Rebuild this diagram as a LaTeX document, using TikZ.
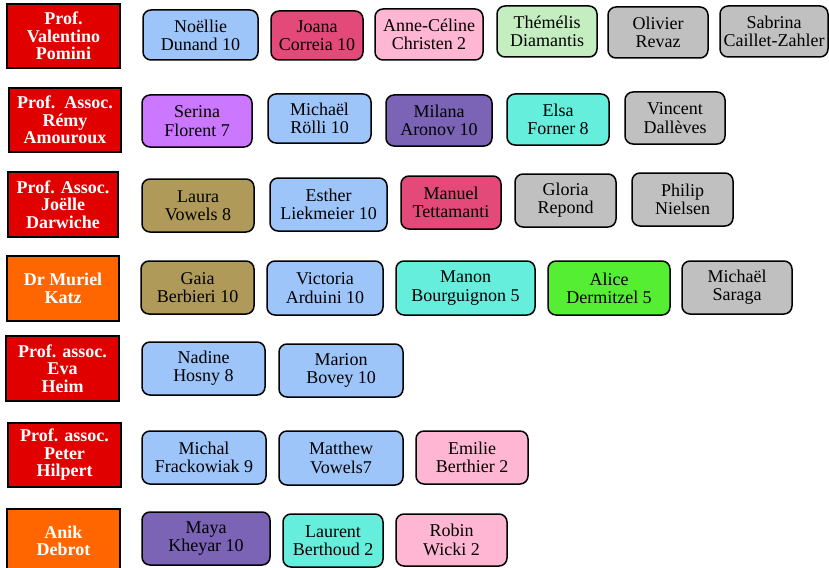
\documentclass[tikz,border=0pt]{standalone}
\usepackage{fontspec}
\setmainfont{Liberation Serif}
\definecolor{profred}{HTML}{E00000}
\definecolor{proforange}{HTML}{FF6600}
\definecolor{lblue}{HTML}{9EC5FA}
\definecolor{rosered}{HTML}{E34A7A}
\definecolor{lpink}{HTML}{FFB6D3}
\definecolor{lgreen}{HTML}{C4EEC0}
\definecolor{lgray}{HTML}{C0C0C0}
\definecolor{lpurple}{HTML}{CC77FF}
\definecolor{dpurple}{HTML}{7B63B5}
\definecolor{turq}{HTML}{66EEDD}
\definecolor{khaki}{HTML}{B09A5A}
\definecolor{brgreen}{HTML}{55EE33}
\tikzset{
  prof/.style={draw=black, line width=2pt, rectangle, inner sep=0pt, align=center,
    text=white, font=\fontsize{18}{17.5}\selectfont\bfseries},
  stud/.style={draw=black, line width=1.5pt, rectangle, rounded corners=8pt, inner sep=0pt,
    align=center, text=black, font=\fontsize{18}{18.3}\selectfont},
}
\newcommand\bx[7]{%
  \pgfmathsetmacro\cxx{(#3+#5)/2}\pgfmathsetmacro\cyy{(#4+#6)/2}%
  \pgfmathsetmacro\ww{#5-#3}\pgfmathsetmacro\hh{#6-#4}%
  \node[#1, minimum width=\ww pt, minimum height=\hh pt] (#2) at (\cxx,\cyy) {#7};}
\begin{document}
\begin{tikzpicture}[x=1pt,y=-1pt]
\useasboundingbox (0,0) rectangle (829,567);
% row 1
\bx{prof,fill=profred}{p1}{7}{4}{120}{68}{Prof.\\Valentino\\Pomini}
\bx{stud,fill=lblue}{s11}{143}{10}{258}{60}{Noëllie\\Dunand 10}
\bx{stud,fill=rosered}{s12}{271}{11}{363}{60}{Joana\\Correia 10}
\bx{stud,fill=lpink}{s13}{375}{9}{483}{60}{Anne-Céline\\Christen 2}
\bx{stud,fill=lgreen}{s14}{497}{6}{597}{57}{Thémélis\\Diamantis}
\bx{stud,fill=lgray}{s15}{608}{7}{708}{58}{Olivier\\Revaz}
\bx{stud,fill=lgray}{s16}{720}{6}{828}{57}{Sabrina\\Caillet-Zahler}
% row 2
\bx{prof,fill=profred}{p2}{9}{88}{121}{152}{Prof.~~Assoc.\\Rémy\\Amouroux}
\bx{stud,fill=lpurple}{s21}{142}{95}{252}{147}{Serina\\Florent 7}
\bx{stud,fill=lblue}{s22}{268}{94}{371}{143}{Michaël\\Rölli 10}
\bx{stud,fill=dpurple}{s23}{386}{95}{492}{146}{Milana\\Aronov 10}
\bx{stud,fill=turq}{s24}{507}{94}{609}{145}{Elsa\\Forner 8}
\bx{stud,fill=lgray}{s25}{625}{92}{725}{144}{Vincent\\Dallèves}
% row 3
\bx{prof,fill=profred}{p3}{8}{172}{118}{237}{Prof. Assoc.\\Joëlle\\Darwiche}
\bx{stud,fill=khaki}{s31}{142}{179}{254}{232}{Laura\\Vowels 8}
\bx{stud,fill=lblue}{s32}{270}{178}{387}{231}{Esther\\Liekmeier 10}
\bx{stud,fill=rosered}{s33}{401}{176}{501}{229}{Manuel\\Tettamanti}
\bx{stud,fill=lgray}{s34}{515}{174}{616}{227}{Gloria\\Repond}
\bx{stud,fill=lgray}{s35}{632}{173}{733}{226}{Philip\\Nielsen}
% row 4
\bx{prof,fill=proforange}{p4}{7}{256}{119}{321}{Dr Muriel\\Katz}
\bx{stud,fill=khaki}{s41}{141}{261}{254}{314}{Gaia\\Berbieri 10}
\bx{stud,fill=lblue}{s42}{267}{261}{383}{315}{Victoria\\Arduini 10}
\bx{stud,fill=turq}{s43}{396}{261}{535}{315}{Manon\\Bourguignon 5}
\bx{stud,fill=brgreen}{s44}{548}{261}{670}{315}{Alice\\Dermitzel 5}
\bx{stud,fill=lgray}{s45}{682}{261}{792}{314}{Michaël\\Saraga}
% row 5
\bx{prof,fill=profred}{p5}{6}{336}{119}{401}{Prof. assoc.\\Eva\\Heim}
\bx{stud,fill=lblue}{s51}{142}{342}{265}{395}{Nadine\\Hosny 8}
\bx{stud,fill=lblue}{s52}{279}{344}{403}{397}{Marion\\Bovey 10}
% row 6
\bx{prof,fill=profred}{p6}{8}{423}{121}{487}{Prof. assoc.\\Peter\\Hilpert}
\bx{stud,fill=lblue}{s61}{142}{431}{266}{484}{Michal\\Frackowiak 9}
\bx{stud,fill=lblue}{s62}{279}{431}{403}{485}{Matthew\\Vowels7}
\bx{stud,fill=lpink}{s63}{416}{431}{528}{484}{Emilie\\Berthier 2}
% row 7
\bx{prof,fill=proforange}{p7}{7}{509}{120}{573}{Anik\\Debrot}
\bx{stud,fill=dpurple}{s71}{142}{512}{270}{565}{Maya\\Kheyar 10}
\bx{stud,fill=turq}{s72}{283}{514}{383}{567}{Laurent\\Berthoud 2}
\bx{stud,fill=lpink}{s73}{396}{514}{507}{566}{Robin\\Wicki 2}
\end{tikzpicture}
\end{document}
